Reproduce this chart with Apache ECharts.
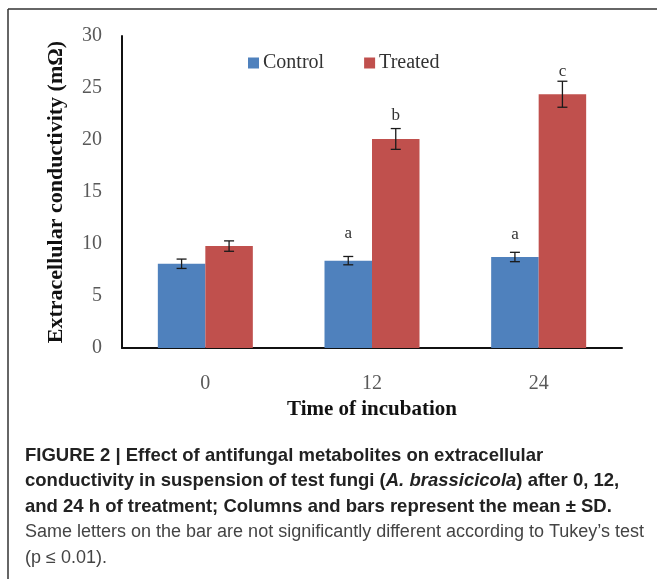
<!DOCTYPE html>
<html>
<head>
<meta charset="utf-8">
<script src="https://cdn.jsdelivr.net/npm/echarts@6/dist/echarts.min.js"></script>
<style>
  html, body { margin: 0; padding: 0; background: #fff; }
  #chart { width: 657px; height: 579px; }
</style>
</head>
<body>
<div id="chart"></div>
<script>
// 数据
const categories = ['0', '12', '24']
const controlMean = [8.1, 8.4, 8.75]
const controlSd = [0.45, 0.4, 0.45]
const treatedMean = [9.8, 20.1, 24.4]
const treatedSd = [0.5, 1.0, 1.25]
// 显著性字母 ('' = 无) 及其高度 (数据单位)
const controlLetters = ['', 'a', 'a']
const controlLetterY = [0, 11.0, 10.9]
const treatedLetters = ['', 'b', 'c']
const treatedLetterY = [0, 22.4, 26.6]
const yTicks = { min: 0, max: 30, interval: 5 }

const colors = {
  control: '#4F81BD',
  treated: '#C0504D',
  axis: '#111',
  tick: '#595959'
}
const serif = '"Liberation Serif", "DejaVu Serif", serif'
const sans = '"Liberation Sans", Arial, sans-serif'
const catGap = 0.43

const chart = echarts.init(document.getElementById('chart'))

// 误差线 + 字母
const errorSeries = (name, means, sds, letters, letterY, side) => ({
  name: name + '-err',
  type: 'custom',
  z: 5,
  silent: true,
  data: means.map((m, i) => [i, m, sds[i]]),
  renderItem: (params, api) => {
    const i = api.value(0)
    const m = api.value(1)
    const sd = api.value(2)
    const catW = api.size([1, 0])[0]
    const barW = catW * (1 - catGap) / 2
    const cx = api.coord([i, m])[0] + side * barW / 2
    const yHi = api.coord([i, m + sd])[1]
    const yLo = api.coord([i, m - sd])[1]
    const cap = 5
    const lineStyle = { stroke: '#1a1a1a', lineWidth: 1.3 }
    const children = [
      { type: 'line', shape: { x1: cx, y1: yHi, x2: cx, y2: yLo }, style: lineStyle },
      { type: 'line', shape: { x1: cx - cap, y1: yHi, x2: cx + cap, y2: yHi }, style: lineStyle },
      { type: 'line', shape: { x1: cx - cap, y1: yLo, x2: cx + cap, y2: yLo }, style: lineStyle }
    ]
    const letter = letters[i]
    if (letter) {
      children.push({
        type: 'text',
        style: {
          text: letter,
          x: cx,
          y: api.coord([i, letterY[i]])[1],
          align: 'center',
          verticalAlign: 'middle',
          font: '17px ' + serif,
          fill: '#333'
        }
      })
    }
    return { type: 'group', children }
  }
})

const caption =
  '{b|FIGURE 2 | Effect of antifungal metabolites on extracellular}\n' +
  '{b|conductivity in suspension of test fungi (}{bi|A. brassicicola}{b|) after 0, 12,}\n' +
  '{b|and 24 h of treatment; Columns and bars represent the mean ± SD.}\n' +
  '{r|Same letters on the bar are not significantly different according to Tukey\u2019s test}\n' +
  '{r|(p \u2264 0.01).}'

chart.setOption({
  animation: false,
  grid: { left: 122, right: 35, top: 36, bottom: 231 },
  legend: {
    left: 243,
    top: 48,
    itemWidth: 11,
    itemHeight: 11,
    itemGap: 40,
    icon: 'rect',
    data: ['Control', 'Treated'],
    textStyle: { fontFamily: serif, fontSize: 20, color: '#333', padding: [0, 0, 0, -1] }
  },
  xAxis: {
    type: 'category',
    data: categories,
    name: 'Time of incubation',
    nameLocation: 'middle',
    nameGap: 46,
    nameTextStyle: { fontFamily: serif, fontSize: 21, fontWeight: 'bold', color: '#111' },
    axisLine: { lineStyle: { color: colors.axis, width: 2 } },
    axisTick: { show: false },
    axisLabel: { fontFamily: serif, fontSize: 20, color: colors.tick, margin: 26 }
  },
  yAxis: {
    type: 'value',
    min: yTicks.min,
    max: yTicks.max,
    interval: yTicks.interval,
    name: 'Extracellular conductivity (m\u03a9)',
    nameLocation: 'middle',
    nameGap: 55,
    nameTextStyle: { fontFamily: serif, fontSize: 22, fontWeight: 'bold', color: '#111' },
    axisLine: { show: true, lineStyle: { color: colors.axis, width: 2 } },
    axisTick: { show: false },
    splitLine: { show: false },
    axisLabel: { fontFamily: serif, fontSize: 20, color: colors.tick, margin: 20 }
  },
  series: [
    {
      name: 'Control',
      type: 'bar',
      data: controlMean,
      barGap: '0%',
      barCategoryGap: (catGap * 100) + '%',
      itemStyle: { color: colors.control }
    },
    {
      name: 'Treated',
      type: 'bar',
      data: treatedMean,
      barGap: '0%',
      barCategoryGap: (catGap * 100) + '%',
      itemStyle: { color: colors.treated }
    },
    errorSeries('Control', controlMean, controlSd, controlLetters, controlLetterY, -1),
    errorSeries('Treated', treatedMean, treatedSd, treatedLetters, treatedLetterY, 1)
  ],
  graphic: [
    { type: 'line', shape: { x1: 8, y1: 9, x2: 657, y2: 9 }, style: { stroke: '#333', lineWidth: 1.5 } },
    { type: 'line', shape: { x1: 8, y1: 9, x2: 8, y2: 579 }, style: { stroke: '#333', lineWidth: 1.5 } },
    {
      type: 'text',
      left: 25,
      top: 443,
      style: {
        text: caption,
        lineHeight: 25.5,
        rich: {
          b: { fontFamily: sans, fontSize: 18.5, fontWeight: 'bold', fill: '#222', lineHeight: 25.5 },
          bi: { fontFamily: sans, fontSize: 18.5, fontWeight: 'bold', fontStyle: 'italic', fill: '#222', lineHeight: 25.5 },
          r: { fontFamily: sans, fontSize: 18, fill: '#444', lineHeight: 25.5 }
        }
      }
    }
  ]
})
</script>
</body>
</html>
